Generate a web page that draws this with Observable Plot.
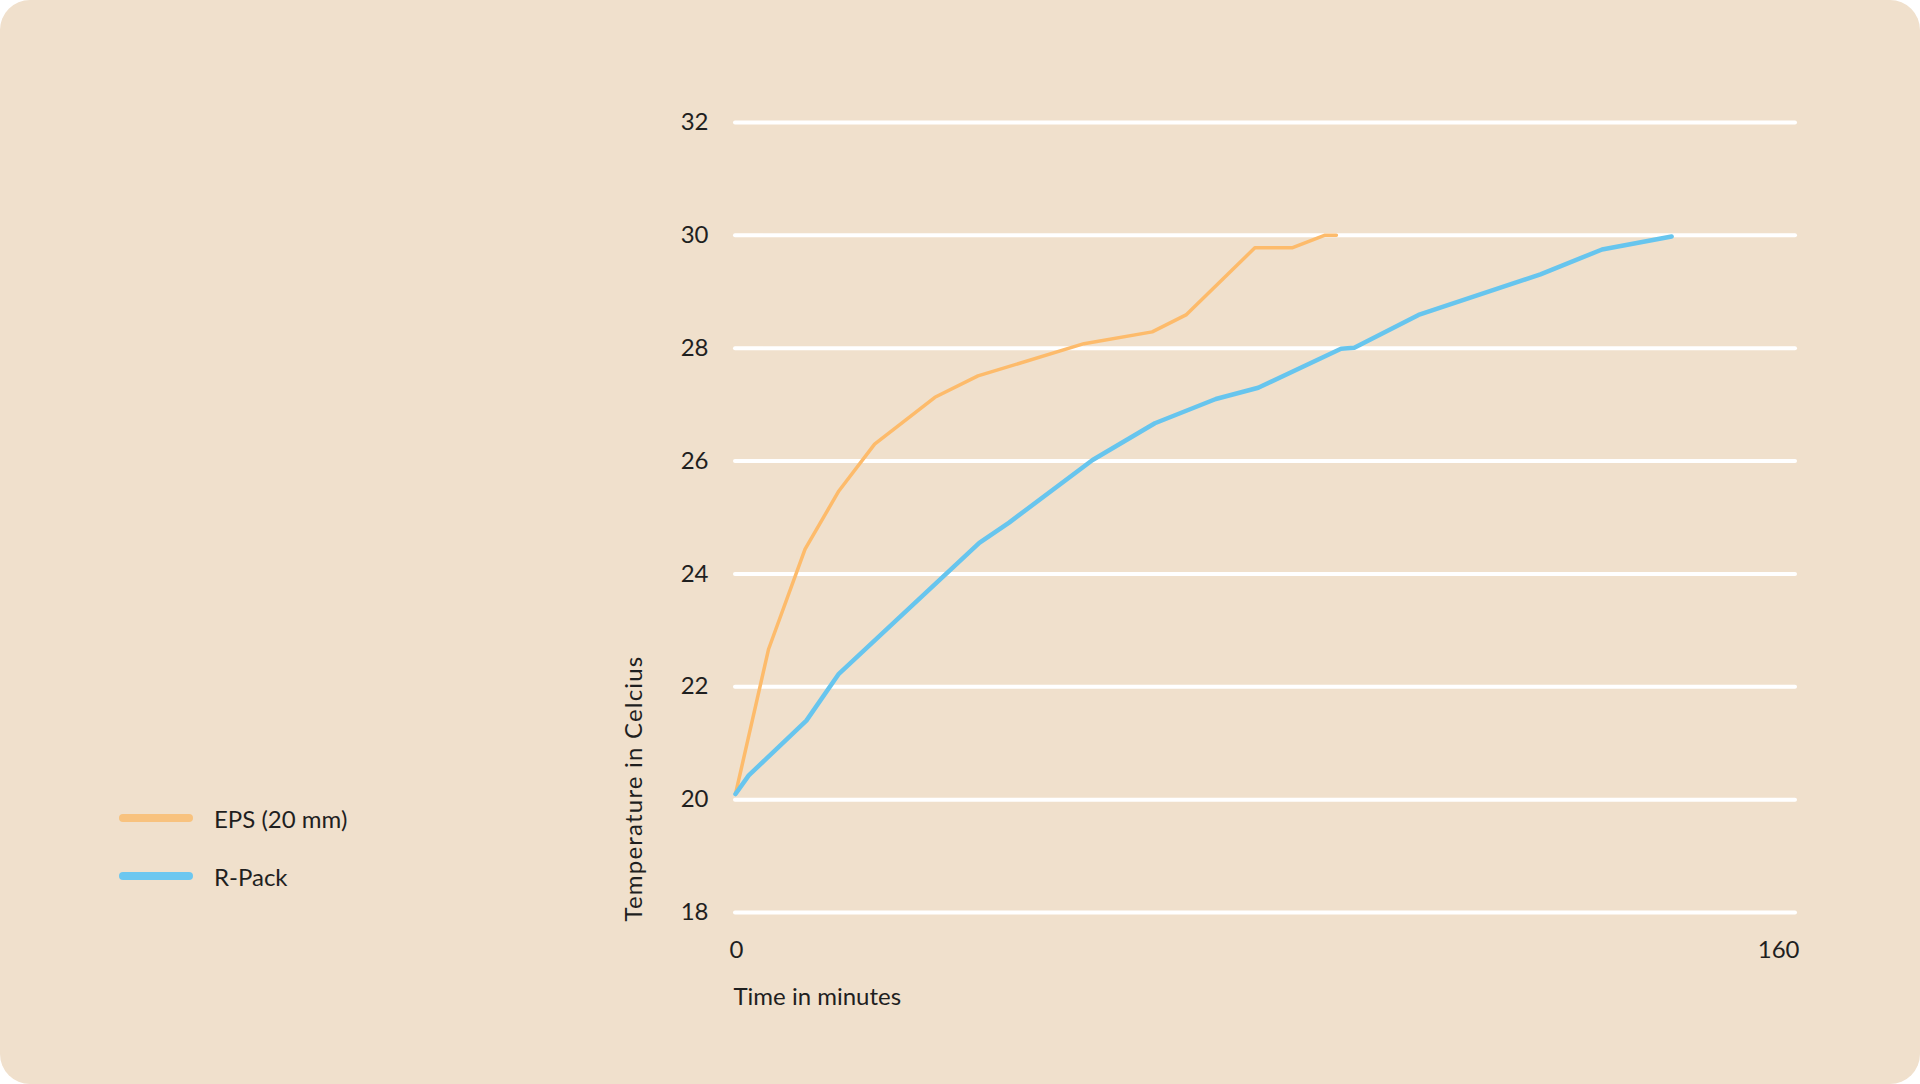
<!DOCTYPE html>
<html>
<head>
<meta charset="utf-8">
<script src="https://cdn.jsdelivr.net/npm/d3@7"></script>
<script src="https://cdn.jsdelivr.net/npm/@observablehq/plot@0.6"></script>
<style>
  html, body { margin: 0; padding: 0; background: #ffffff; }
  #card {
    position: relative; width: 1920px; height: 1084px;
    background: #F0E0CC; border-radius: 30px; overflow: hidden;
    font-family: Lato, "Open Sans", sans-serif; color: #1f1f1f;
  }
  #chart { position: absolute; left: 0; top: 0; }
  .legend { position: absolute; left: 0; top: 0; }
  .item { position: absolute; display: flex; align-items: center; font-size: 24px; white-space: nowrap; }
  .sw { flex: 0 0 74px; width: 74px; height: 8px; border-radius: 4px; margin-right: 21px; }
</style>
</head>
<body>
<div id="card">
  <div id="chart"></div>
  <div class="legend" id="legend"></div>
</div>
<script>
// ---- data ----
const seriesNames = ["EPS (20 mm)", "R-Pack"];
const seriesColors = ["#FDBB6B", "#67C5EE"];
const legendColors = ["#F8C27E", "#6CC7F0"];

const epsTime = [0, 5, 10.5, 15.6, 21, 30.1, 36.6, 52.6, 62.9, 68, 78.4, 84, 88.9, 90.7];
const epsTemp = [20.1, 22.67, 24.44, 25.47, 26.3, 27.13, 27.51, 28.08, 28.29, 28.59, 29.78, 29.78, 30.0, 30.0];

const rpackTime = [0, 2, 10.7, 15.6, 36.8, 41.3, 53.9, 63.3, 72.5, 78.9, 91.4, 93.4, 103.1, 121.5, 130.8, 141.3];
const rpackTemp = [20.1, 20.43, 21.4, 22.23, 24.55, 24.91, 26.02, 26.67, 27.1, 27.3, 27.99, 28.01, 28.59, 29.31, 29.75, 29.98];

const yTicks = [18, 20, 22, 24, 26, 28, 30, 32];
const xTicks = [0, 160];
const xTitle = "Time in minutes";
const yTitle = "Temperature in Celcius";

const eps = epsTime.map((t, i) => ({t, v: epsTemp[i]}));
const rpack = rpackTime.map((t, i) => ({t, v: rpackTemp[i]}));

const chart = Plot.plot({
  width: 1920,
  height: 1084,
  marginLeft: 735,
  marginRight: 125,
  marginTop: 122,
  marginBottom: 172,
  style: {background: "transparent", fontFamily: "Lato, 'Open Sans', sans-serif", color: "#1f1f1f", overflow: "visible"},
  x: {domain: [0, 160]},
  y: {domain: [18, 32]},
  marks: [
    Plot.ruleY(yTicks, {stroke: "#ffffff", strokeWidth: 4, strokeLinecap: "round"}),
    Plot.axisY(yTicks, {tickSize: 0, tickPadding: 27, fontSize: 24, label: null, fill: "#1f1f1f", tickFormat: d => String(d)}),
    Plot.axisX({ticks: [], label: null, tickSize: 0}),
    Plot.text(xTicks.filter((d, i) => i === 0), {x: d => d, text: d => String(d), frameAnchor: "bottom", dy: 45, textAnchor: "start", dx: -6, fontSize: 24, fill: "#1f1f1f"}),
    Plot.text(xTicks.filter((d, i) => i === xTicks.length - 1), {x: d => d, text: d => String(d), frameAnchor: "bottom", dy: 45, textAnchor: "end", dx: 4, fontSize: 24, fill: "#1f1f1f"}),
    Plot.text([xTitle], {x: 0, text: d => d, frameAnchor: "bottom", dy: 92, textAnchor: "start", dx: -2, fontSize: 24, fill: "#1f1f1f"}),
    Plot.text([yTitle], {x: 0, y: 18, text: d => d, rotate: -90, textAnchor: "start", dx: -101, dy: 9, fontSize: 24, fill: "#1f1f1f"}),
    Plot.line(eps, {x: "t", y: "v", stroke: seriesColors[0], strokeWidth: 3.5, strokeLinejoin: "round", strokeLinecap: "round"}),
    Plot.line(rpack, {x: "t", y: "v", stroke: seriesColors[1], strokeWidth: 4.5, strokeLinejoin: "round", strokeLinecap: "round"})
  ]
});
// widen the rotated y title slightly (reference font is letter-spaced)
d3.select(chart).selectAll("text").filter(function() { return this.textContent === yTitle; })
  .attr("letter-spacing", "1.2px");
document.getElementById("chart").appendChild(chart);

const legend = document.getElementById("legend");
const legendY = [818, 876];
seriesNames.forEach((name, i) => {
  const item = document.createElement("div");
  item.className = "item";
  item.style.left = "119px";
  item.style.top = (legendY[i] - 15) + "px";
  item.style.height = "30px";
  const sw = document.createElement("div");
  sw.className = "sw";
  sw.style.background = legendColors[i];
  const label = document.createElement("span");
  label.textContent = name;
  item.appendChild(sw);
  item.appendChild(label);
  legend.appendChild(item);
});
</script>
</body>
</html>
